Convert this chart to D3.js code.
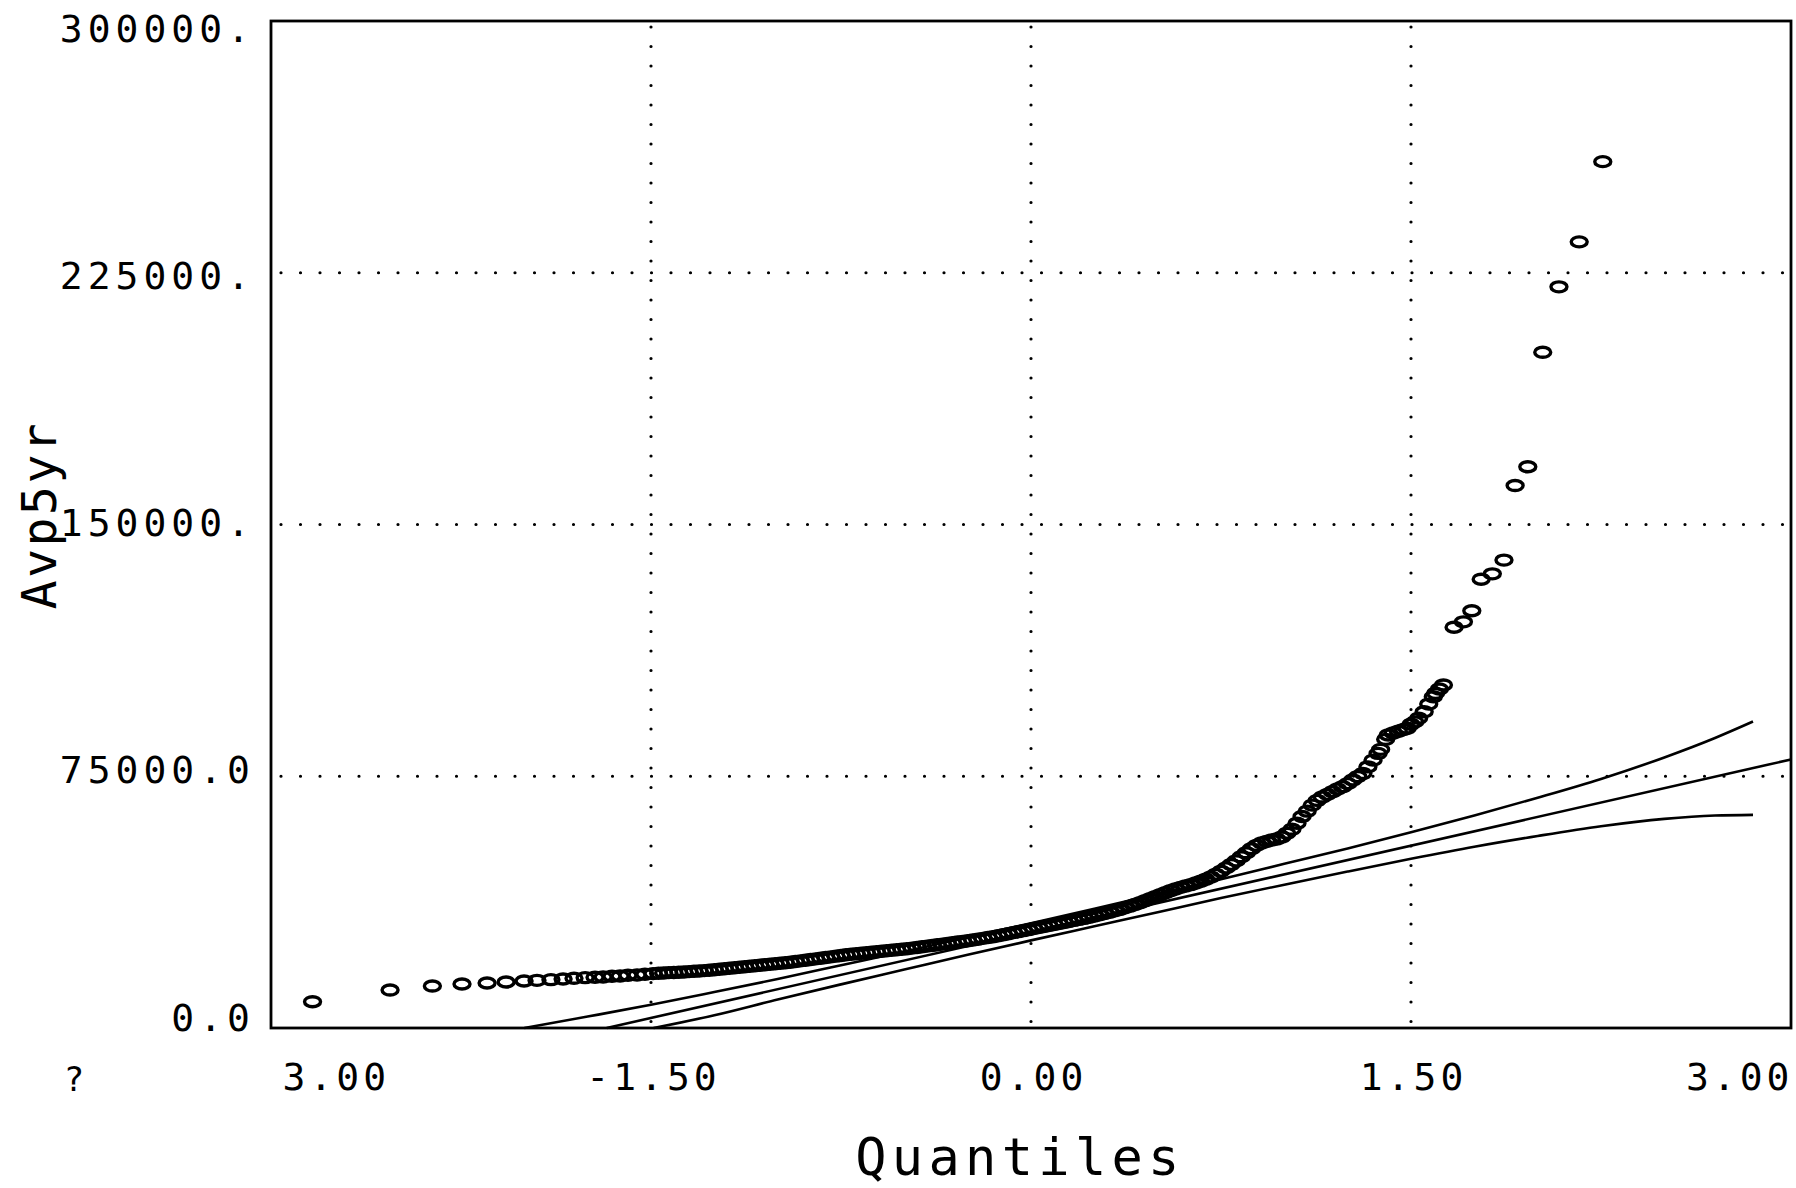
<!DOCTYPE html>
<html>
<head>
<meta charset="utf-8">
<script src="https://cdn.jsdelivr.net/npm/d3@7"></script>
<style>
  body { margin: 0; background: #fff; }
  svg { display: block; background: #fff; }
  text { font-family: "DejaVu Sans Mono", monospace; fill: #000; }
</style>
</head>
<body>
<svg id="chart"></svg>
<script>
// normal quantile plot of Avp5yr

var quantiles = [
  // lower tail
  -2.836, -2.530, -2.363, -2.246, -2.147, -2.072, -2.001, -1.950, -1.895, -1.847,
  -1.804, -1.760, -1.721, -1.689, -1.654, -1.622, -1.591, -1.555, -1.524, -1.492,
  // dense middle
  -1.47, -1.45, -1.43, -1.41, -1.39, -1.37, -1.35, -1.33, -1.31, -1.29,
  -1.27, -1.25, -1.23, -1.21, -1.19, -1.17, -1.15, -1.13, -1.11, -1.09,
  -1.07, -1.05, -1.03, -1.01, -0.99, -0.97, -0.95, -0.93, -0.91, -0.89,
  -0.87, -0.85, -0.83, -0.81, -0.79, -0.77, -0.75, -0.73, -0.71, -0.69,
  -0.67, -0.65, -0.63, -0.61, -0.59, -0.57, -0.55, -0.53, -0.51, -0.49,
  -0.47, -0.45, -0.43, -0.41, -0.39, -0.37, -0.35, -0.33, -0.31, -0.29,
  -0.27, -0.25, -0.23, -0.21, -0.19, -0.17, -0.15, -0.13, -0.11, -0.09,
  -0.07, -0.05, -0.03, -0.01, 0.01, 0.03, 0.05, 0.07, 0.09, 0.11,
  0.13, 0.15, 0.17, 0.19, 0.21, 0.23, 0.25, 0.27, 0.29, 0.31,
  0.33, 0.35, 0.37, 0.39, 0.41, 0.43, 0.45, 0.47, 0.49, 0.51,
  0.53, 0.55, 0.57, 0.59, 0.61, 0.63, 0.65, 0.67, 0.69, 0.71,
  0.73, 0.75, 0.77, 0.79, 0.81, 0.83, 0.85, 0.87, 0.89, 0.91,
  0.93, 0.95, 0.97, 0.99,
  1.01, 1.03, 1.05, 1.07, 1.09, 1.11, 1.13, 1.15, 1.17, 1.19,
  1.21, 1.23, 1.25, 1.27, 1.29, 1.31, 1.33, 1.35, 1.37, 1.38,
  1.40, 1.41, 1.43, 1.45, 1.47, 1.485, 1.50, 1.515, 1.53, 1.552,
  1.57, 1.588, 1.597, 1.612, 1.628,
  // upper tail
  1.670, 1.707, 1.740, 1.777, 1.821, 1.867, 1.911, 1.961, 2.020, 2.084,
  2.164, 2.257
];

var avp5yr = [
  7840, 11300, 12500, 13100, 13400, 13700, 14000, 14200, 14400, 14600,
  14800, 15000, 15100, 15200, 15400, 15500, 15700, 15800, 16000, 16200,

  16300, 16400, 16500, 16550, 16600, 16700, 16800, 16900, 17000, 17100,
  17200, 17350, 17500, 17650, 17800, 17950, 18100, 18250, 18400, 18550,
  18700, 18850, 19000, 19150, 19300, 19450, 19600, 19800, 20000, 20200,
  20400, 20600, 20800, 21000, 21200, 21400, 21600, 21800, 21950, 22100,
  22250, 22400, 22550, 22700, 22850, 23000, 23150, 23300, 23450, 23600,
  23800, 24000, 24200, 24400, 24600, 24800, 25000, 25200, 25400, 25600,
  25800, 26000, 26200, 26450, 26700, 26950, 27200, 27500, 27800, 28100,
  28400, 28700, 29000, 29300, 29650, 29950, 30250, 30550, 30850, 31150,
  31450, 31750, 32050, 32350, 32650, 33000, 33350, 33700, 34100, 34500,
  34900, 35300, 35800, 36300, 36800, 37300, 37900, 38500, 39100, 39700,
  40300, 40900, 41400, 41900, 42300, 42700, 43200, 43700, 44300, 45000,
  45800, 46700, 47700, 48700, 49800, 51000, 52200, 53400, 54400, 55100,
  55600, 56000, 56300, 56900,
  58000, 59200, 61000, 63000, 64600, 66400, 67800, 68800, 69600, 70400,
  71200, 71900, 72800, 73900, 74900, 75800, 77800, 79800, 81800, 83000,
  86000, 87300, 87900, 88400, 88900, 89300, 90500, 91200, 92300, 94200,
  96500, 98700, 99700, 101000, 102200,

  119400, 121000, 124300, 133700, 135300, 139400, 161600, 167200, 201300, 220800,
  234200, 258100
];

// reference (normal) line
var fitQ = [-1.675, 3.0];
var fitVals = [0, 80000];

// confidence band
var upperQ = [-2.0, -1.75, -1.5, -1.25, -1.0, -0.75, -0.5, -0.25, 0, 0.25, 0.5,
  0.75, 1.0, 1.25, 1.5, 1.75, 2.0, 2.25, 2.5, 2.7, 2.85];
var upperVals = [0, 3400, 6900, 10700, 14600, 18700, 22800, 27000, 31200, 35500, 39900,
  44300, 48900, 53500, 58300, 63300, 68600, 74200, 80600, 86400, 91300];
var lowerQ = [-1.49, -1.25, -1.0, -0.75, -0.5, -0.25, 0, 0.25, 0.5,
  0.75, 1.0, 1.25, 1.5, 1.75, 2.0, 2.25, 2.5, 2.7, 2.85];
var lowerVals = [0, 3800, 8500, 13000, 17400, 21800, 26100, 30300, 34500,
  38700, 42700, 46600, 50400, 54000, 57200, 60100, 62300, 63300, 63500];

var xTicks = [-3, -1.5, 0, 1.5, 3];
var xTickLabels = ["3.00", "-1.50", "0.00", "1.50", "3.00"];
var yTicks = [0, 75000, 150000, 225000, 300000];
var yTickLabels = ["0.0", "75000.0", "150000.", "225000.", "300000."];
var gridX = [-1.5, 0, 1.5];
var gridY = [75000, 150000, 225000];

var width = 1796, height = 1188;
var plotL = 271, plotR = 1791, plotT = 21, plotB = 1028;

var svg = d3.select('#chart')
  .attr('width', width)
  .attr('height', height)

var x = d3.scaleLinear().domain([-3, 3]).range([plotL, plotR]);
var y = d3.scaleLinear().domain([0, 300000]).range([plotB, plotT]);
// the printed labels sit a bit inside the tick positions
var yLab = d3.scaleLinear().domain([0, 300000]).range([plotB - 10, plotT + 8]);

// dotted grid
var dots = svg.append('g')
  .attr('stroke', '#000')
  .attr('stroke-width', 3.2)
  .attr('stroke-linecap', 'round')
  .attr('stroke-dasharray', '0,19.5')

dots.selectAll('line.gx')
  .data(gridX)
  .enter().append('line')
    .attr('x1', d => x(d)).attr('x2', d => x(d))
    .attr('y1', plotT + 6).attr('y2', plotB)

dots.selectAll('line.gy')
  .data(gridY)
  .enter().append('line')
    .attr('x1', plotL + 10).attr('x2', plotR)
    .attr('y1', d => y(d)).attr('y2', d => y(d))

// frame
svg.append('rect')
  .attr('x', plotL).attr('y', plotT)
  .attr('width', plotR - plotL).attr('height', plotB - plotT)
  .attr('fill', 'none')
  .attr('stroke', '#000')
  .attr('stroke-width', 2.8)

// lines
var plotLine = d3.line()
  .x(d => x(d[0]))
  .y(d => y(d[1]))
  .curve(d3.curveMonotoneX)

var lineSets = [
  d3.zip(fitQ, fitVals),
  d3.zip(upperQ, upperVals),
  d3.zip(lowerQ, lowerVals)
];

svg.append('g')
  .selectAll('path')
  .data(lineSets)
  .enter().append('path')
    .attr('d', plotLine)
    .attr('fill', 'none')
    .attr('stroke', '#000')
    .attr('stroke-width', 2.6)

// points
svg.append('g')
  .selectAll('ellipse')
  .data(d3.zip(quantiles, avp5yr))
  .enter().append('ellipse')
    .attr('cx', d => x(d[0]))
    .attr('cy', d => y(d[1]))
    .attr('rx', 8)
    .attr('ry', 5)
    .attr('fill', 'none')
    .attr('stroke', '#000')
    .attr('stroke-width', 3.4)

// axes
var xAxis = d3.axisBottom(x)
  .tickValues(xTicks)
  .tickFormat((d, i) => xTickLabels[i])
  .tickSize(0)
  .tickPadding(35)

var gx = svg.append('g')
  .attr('transform', 'translate(0,' + plotB + ')')
  .call(xAxis)
gx.select('.domain').remove()
gx.selectAll('text')
  .attr('font-family', '"DejaVu Sans Mono", monospace')
  .attr('font-size', 38)
  .attr('letter-spacing', 4)
  .attr('dx', 2)
gx.selectAll('.tick').filter((d, i) => i === 0).select('text')
  .attr('text-anchor', 'start').attr('dx', 11)
gx.selectAll('.tick').filter((d, i) => i === xTicks.length - 1).select('text')
  .attr('text-anchor', 'end').attr('dx', 2)

var yAxis = d3.axisLeft(yLab)
  .tickValues(yTicks)
  .tickFormat((d, i) => yTickLabels[i])
  .tickSize(0)
  .tickPadding(16)

var gy = svg.append('g')
  .attr('transform', 'translate(' + plotL + ',0)')
  .call(yAxis)
gy.select('.domain').remove()
gy.selectAll('text')
  .attr('font-family', '"DejaVu Sans Mono", monospace')
  .attr('font-size', 38)
  .attr('letter-spacing', 5)

// titles
svg.append('text')
  .attr('x', 1020)
  .attr('y', 1175)
  .attr('text-anchor', 'middle')
  .attr('font-size', 52)
  .attr('letter-spacing', 5.3)
  .text('Quantiles')

svg.append('text')
  .attr('transform', 'translate(56,515) rotate(-90)')
  .attr('text-anchor', 'middle')
  .attr('font-size', 48)
  .attr('letter-spacing', 2.5)
  .text('Avp5yr')

svg.append('text')
  .attr('x', 74)
  .attr('y', 1091)
  .attr('text-anchor', 'middle')
  .attr('font-size', 34)
  .text('?')
</script>
</body>
</html>
